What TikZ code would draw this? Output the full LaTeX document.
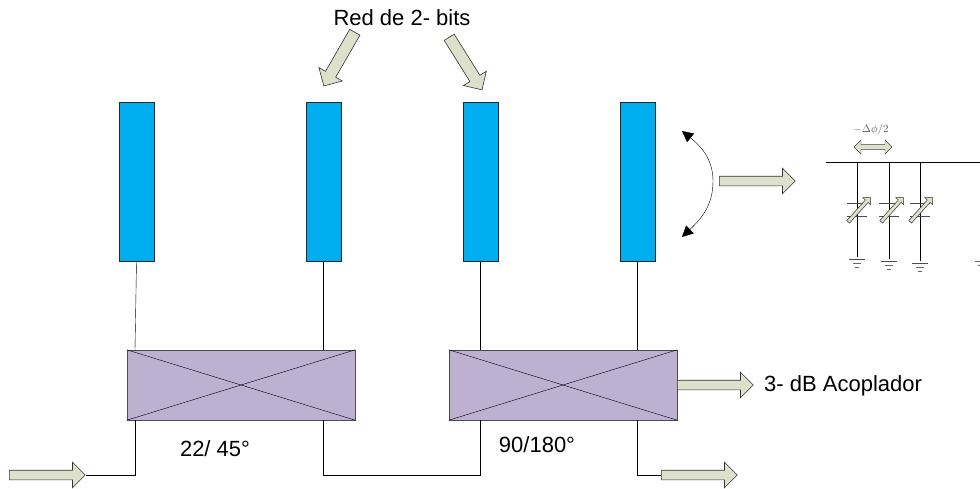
\documentclass[tikz,border=0pt]{standalone}
\usepackage{fontspec}
\setmainfont{Liberation Sans}
\usetikzlibrary{shapes.arrows,arrows.meta}

\definecolor{barblue}{HTML}{00AEEF}
\definecolor{couplerpurple}{HTML}{BDB0D0}
\definecolor{arrowgreen}{HTML}{DDE1CB}

\tikzset{
  antennabar/.style={draw=black!85, fill=barblue, minimum width=35pt, minimum height=159pt, inner sep=0},
  couplerbox/.style={draw=black!70, fill=couplerpurple, minimum width=228pt, minimum height=70pt, inner sep=0},
  bigarrow/.style={single arrow, draw=black!80, fill=arrowgreen, line width=0.6pt, inner sep=4.5pt, minimum height=76pt,
    minimum width=25pt, single arrow head extend=8pt, anchor=tail},
  slantarrow/.style={bigarrow, inner sep=5.5pt, minimum height=62pt, minimum width=27pt, single arrow head extend=7.5pt},
  tunearrow/.style={bigarrow, inner sep=1.6pt, minimum height=33pt, minimum width=10pt, single arrow head extend=3.4pt, line width=0.5pt},
  tagtext/.style={font=\fontsize{22}{26}\selectfont, inner sep=0}
}

\begin{document}
\begin{tikzpicture}[x=1pt, y=-1pt]
  \useasboundingbox (0,0) rectangle (980,488);

  \foreach \name/\px in {bara/136.5,barb/323.5,barc/480.5,bard/637.5}{
    \node[antennabar] (\name) at (\px,182) {};
  }

  \foreach \name/\px in {coupa/241,coupb/563}{
    \node[couplerbox] (\name) at (\px,385) {};
    \draw (\name.north west)--(\name.south east);
    \draw (\name.south west)--(\name.north east);
  }

  % feed lines
  \coordinate (ina) at (135,350);
  \draw (bara.south)--(ina);
  \draw (barb.south)--(barb.south |- coupa.north);
  \draw (barc.south)--(barc.south |- coupb.north);
  \draw (bard.south)--(bard.south |- coupb.north);

  \node[bigarrow] (inarrow) at (9,475) {};
  \node[bigarrow] (outarrow) at (661,475) {};
  \node[bigarrow] (sidearrow) at (677,385) {};
  \node[bigarrow] (swingarrow) at (719,181) {};

  \draw (ina |- coupa.south)--(ina |- inarrow)--(inarrow.tip);
  \draw (barb.south |- coupa.south)--(barb.south |- inarrow)--(barc.south |- inarrow)--(barc.south |- coupb.south);
  \draw (bard.south |- coupb.south)--(bard.south |- outarrow)--(outarrow.tail);

  \node[slantarrow, rotate=-120] (leftbit) at (355,32) {};
  \node[slantarrow, rotate=-58] (rightbit) at (449,37) {};

  \node[tagtext] (redtext) at (402,18) {Red de 2- bits};
  \node[tagtext] (lowtext) at (215,449) {22/ 45°};
  \node[tagtext] (hightext) at (537,445) {90/180°};
  \node[tagtext, anchor=west] (acotext) at (764,386) {3- dB Acoplador};

  % swing of the beam
  \coordinate (swingtop) at (682,131);
  \coordinate (swingbot) at (682,237);
  \draw[-{Triangle[length=11pt,width=11pt]}] (713,181) .. controls (713,160) and (702,147) .. (swingtop);
  \draw[-{Triangle[length=11pt,width=11pt]}] (713,181) .. controls (713,205) and (702,218) .. (swingbot);

  % phase shifter detail
  \begin{scope}[line width=0.6pt]
    \coordinate (linestart) at (826,162);
    \coordinate (lineend) at (980,162);
    \draw (linestart)--(lineend);

    \foreach \px/\gy in {857/259,889/261,920/263}{
      \begin{scope}[shift={(\px,0)}]
        \draw (0,162)--(0,\gy-2);
        \draw[black!70] (-10,203)--(10,203);
        \draw[black!70] (-10,216)--(10,216);
        \draw[black!70] (-8,\gy)--(8,\gy);
        \draw[black!60] (-4,\gy+4)--(4,\gy+4);
        \draw[black!60] (-2,\gy+8)--(2,\gy+8);
      \end{scope}
    }
    \draw[black!60] (975,261)--(980,261);
    \draw[black!60] (978,265)--(980,265);
  \end{scope}

  \foreach \px/\py in {848/222,881/222,910/222}{
    \node[tunearrow, rotate=48] at (\px,\py) {};
  }

  \node[double arrow, draw=black!75, fill=arrowgreen, inner sep=1.6pt, minimum height=38pt, minimum width=14pt,
    double arrow head extend=3.5pt] (phasearrow) at (873,147) {};
  \node[font=\fontsize{10.5}{12}\selectfont, text=black!65, inner sep=0] (phasetext) at (871,130) {$-\Delta\phi/2$};
\end{tikzpicture}
\end{document}
